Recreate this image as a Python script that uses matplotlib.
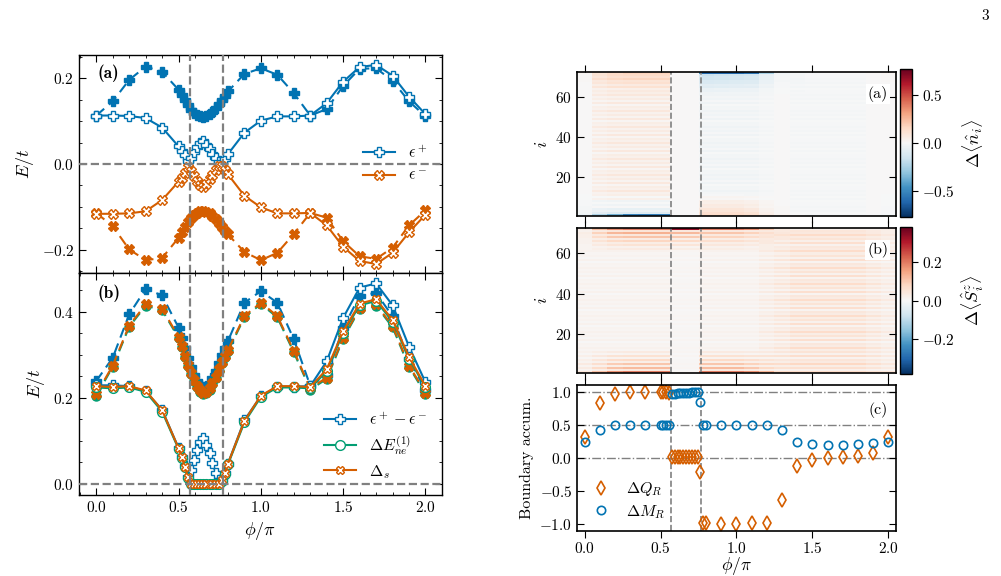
import numpy as np
import matplotlib
matplotlib.use('Agg')
import matplotlib.pyplot as plt
from matplotlib.ticker import MultipleLocator

plt.rcParams['font.family'] = 'serif'
plt.rcParams['font.serif'] = ['cmr10']
plt.rcParams['mathtext.fontset'] = 'cm'
plt.rcParams['axes.formatter.use_mathtext'] = True
plt.rcParams['font.size'] = 11

BLUE = '#0173b2'
ORANGE = '#d55e00'
GREEN = '#029e73'
GRAY = '0.5'

# --- data -------------------------------------------------------------
phi = [0.0, 0.1, 0.2, 0.3, 0.4,
       0.5, 0.519, 0.538, 0.556, 0.575, 0.594, 0.613, 0.631, 0.65,
       0.669, 0.688, 0.706, 0.725, 0.744, 0.763, 0.781, 0.8,
       0.9, 1.0, 1.1, 1.2, 1.3, 1.4, 1.5, 1.6, 1.7, 1.8, 1.9, 2.0]
phi_c = [0.567, 0.768]

# panel (a)
eps_p = [0.113, 0.113, 0.112, 0.107, 0.085,
         0.041, 0.031, 0.020, 0.008, 0.015, 0.027, 0.039, 0.048, 0.053,
         0.045, 0.035, 0.024, 0.013, 0.005, 0.004, 0.012, 0.023,
         0.073, 0.101, 0.111, 0.111, 0.113, 0.142, 0.192, 0.226, 0.231, 0.206, 0.157, 0.116]
eps_m = [-0.116, -0.116, -0.115, -0.110, -0.084,
         -0.041, -0.032, -0.021, -0.008, -0.016, -0.028, -0.040, -0.049, -0.053,
         -0.046, -0.036, -0.025, -0.013, -0.005, -0.004, -0.013, -0.024,
         -0.074, -0.101, -0.115, -0.115, -0.114, -0.143, -0.193, -0.226, -0.233, -0.207, -0.159, -0.118]
eps_p_pbc = [0.113, 0.146, 0.196, 0.227, 0.215,
             0.173, 0.160, 0.148, 0.137, 0.127, 0.119, 0.114, 0.111, 0.110,
             0.112, 0.116, 0.122, 0.130, 0.139, 0.149, 0.159, 0.169,
             0.210, 0.223, 0.208, 0.165, 0.113, 0.128, 0.182, 0.222, 0.223, 0.194, 0.146, 0.111]
eps_m_pbc = [-0.114, -0.145, -0.199, -0.224, -0.219,
             -0.172, -0.159, -0.147, -0.136, -0.126, -0.118, -0.113, -0.110, -0.109,
             -0.111, -0.115, -0.121, -0.129, -0.138, -0.147, -0.156, -0.164,
             -0.205, -0.224, -0.207, -0.163, -0.114, -0.125, -0.180, -0.215, -0.221, -0.195, -0.143, -0.108]

# panel (b)
gap = [0.229, 0.229, 0.227, 0.215, 0.172,
       0.083, 0.063, 0.041, 0.016, 0.031, 0.055, 0.079, 0.097, 0.106,
       0.091, 0.071, 0.049, 0.026, 0.010, 0.008, 0.025, 0.047,
       0.148, 0.204, 0.226, 0.226, 0.227, 0.285, 0.386, 0.456, 0.466, 0.415, 0.319, 0.236]
dE = [0.224, 0.222, 0.224, 0.214, 0.168,
      0.081, 0.060, 0.038, 0.014, 0.0, 0.0, 0.0, 0.0, 0.0,
      0.0, 0.0, 0.0, 0.0, 0.0, 0.006, 0.023, 0.045,
      0.143, 0.202, 0.224, 0.224, 0.222, 0.262, 0.351, 0.415, 0.425, 0.377, 0.291, 0.224]
ds = [0.227, 0.225, 0.227, 0.217, 0.171,
      0.083, 0.062, 0.040, 0.016, 0.0, 0.0, 0.0, 0.0, 0.0,
      0.0, 0.0, 0.0, 0.0, 0.0, 0.008, 0.025, 0.047,
      0.146, 0.205, 0.227, 0.227, 0.225, 0.266, 0.355, 0.419, 0.429, 0.381, 0.295, 0.227]
gap_pbc = [0.239, 0.293, 0.394, 0.453, 0.438,
           0.363, 0.340, 0.316, 0.293, 0.272, 0.254, 0.239, 0.229, 0.224,
           0.226, 0.234, 0.246, 0.262, 0.281, 0.300, 0.316, 0.332,
           0.421, 0.448, 0.421, 0.336, 0.228, 0.253, 0.362, 0.437, 0.444, 0.389, 0.289, 0.219]
dE_pbc = [0.205, 0.272, 0.365, 0.414, 0.404,
          0.339, 0.317, 0.295, 0.274, 0.255, 0.238, 0.224, 0.214, 0.209,
          0.211, 0.219, 0.231, 0.246, 0.263, 0.280, 0.294, 0.308,
          0.387, 0.418, 0.387, 0.306, 0.219, 0.244, 0.337, 0.406, 0.414, 0.364, 0.272, 0.209]
ds_pbc = [0.208, 0.275, 0.368, 0.417, 0.407,
          0.342, 0.320, 0.298, 0.277, 0.258, 0.241, 0.227, 0.217, 0.212,
          0.214, 0.222, 0.234, 0.249, 0.266, 0.283, 0.297, 0.311,
          0.390, 0.421, 0.390, 0.309, 0.222, 0.247, 0.340, 0.409, 0.417, 0.367, 0.275, 0.212]

# panel (c)
dQ = [0.32, 0.83, 0.97, 0.99, 0.99,
      0.99, 0.99, 0.99, 0.98, 0.01, 0.01, 0.01, 0.01, 0.01,
      0.01, 0.01, 0.01, 0.01, 0.01, -0.21, -0.98, -0.99,
      -1.0, -1.0, -0.99, -0.98, -0.64, -0.13, -0.03, 0.0, 0.01, 0.03, 0.08, 0.32]
dM = [0.24, 0.415, 0.49, 0.50, 0.50,
      0.50, 0.50, 0.50, 0.50, 0.965, 0.97, 0.975, 0.978, 0.98,
      0.982, 0.985, 0.987, 0.99, 0.99, 0.84, 0.50, 0.50,
      0.50, 0.50, 0.50, 0.50, 0.425, 0.245, 0.215, 0.20, 0.20, 0.205, 0.22, 0.24]

# heatmaps: per-column values at the outermost site, in the band next to it and in the bulk
n_sites = 72
n_top_edge = [0.02, 0.1, 0.14, 0.16, 0.16,
              0.16, 0.16, 0.16, 0.16, 0.0, 0.0, 0.0, 0.0, 0.0,
              0.0, 0.0, 0.0, 0.0, 0.0, -0.45, -0.6, -0.6,
              -0.6, -0.6, -0.55, -0.25, -0.04, -0.02, -0.01, 0.0, 0.0, 0.0, 0.01, 0.02]
n_top_band = [0.01, 0.07, 0.09, 0.1, 0.1,
              0.1, 0.1, 0.1, 0.1, 0.0, 0.0, 0.0, 0.0, 0.0,
              0.0, 0.0, 0.0, 0.0, 0.0, -0.12, -0.15, -0.15,
              -0.14, -0.13, -0.12, -0.06, -0.02, -0.01, 0.0, 0.0, 0.0, 0.0, 0.0, 0.01]
n_bot_edge = [-0.05, -0.3, -0.45, -0.6, -0.62,
              -0.62, -0.62, -0.62, -0.62, 0.0, 0.0, 0.0, 0.0, 0.0,
              0.0, 0.0, 0.0, 0.0, 0.0, 0.15, 0.18, 0.18,
              0.18, 0.18, 0.16, 0.08, 0.02, 0.01, 0.0, 0.0, 0.0, 0.0, -0.01, -0.02]
n_bot_band = [-0.02, -0.1, -0.12, -0.12, -0.12,
              -0.12, -0.12, -0.12, -0.12, 0.0, 0.0, 0.0, 0.0, 0.0,
              0.0, 0.0, 0.0, 0.0, 0.0, 0.12, 0.14, 0.14,
              0.14, 0.14, 0.12, 0.05, 0.01, 0.0, 0.0, 0.0, 0.0, 0.0, 0.0, -0.01]
n_bulk = [0.0, 0.04, 0.05, 0.05, 0.05,
          0.05, 0.05, 0.05, 0.05, 0.0, 0.0, 0.0, 0.0, 0.0,
          0.0, 0.0, 0.0, 0.0, 0.0, -0.02, -0.02, -0.02,
          -0.02, -0.02, -0.02, -0.01, 0.0, -0.01, -0.01, -0.01, -0.01, -0.01, 0.0, 0.0]
s_top_edge = [0.03, 0.12, 0.18, 0.2, 0.2,
              0.2, 0.2, 0.2, 0.2, 0.33, 0.33, 0.33, 0.33, 0.33,
              0.33, 0.33, 0.33, 0.33, 0.33, 0.2, 0.2, 0.2,
              0.2, 0.2, 0.18, 0.1, 0.03, 0.01, 0.01, 0.01, 0.01, 0.01, 0.01, 0.02]
s_top_band = [0.02, 0.08, 0.12, 0.13, 0.13,
              0.13, 0.13, 0.13, 0.13, 0.12, 0.12, 0.12, 0.12, 0.12,
              0.12, 0.12, 0.12, 0.12, 0.12, 0.1, 0.1, 0.1,
              0.1, 0.1, 0.08, 0.05, 0.02, 0.01, 0.01, 0.01, 0.01, 0.01, 0.01, 0.01]
s_bot_edge = [0.03, 0.1, 0.16, 0.18, 0.18,
              0.18, 0.18, 0.18, 0.18, 0.0, 0.0, 0.0, 0.0, 0.0,
              0.0, 0.0, 0.0, 0.0, 0.0, 0.18, 0.18, 0.18,
              0.18, 0.18, 0.16, 0.1, 0.03, 0.01, 0.01, 0.01, 0.01, 0.01, 0.01, 0.02]
s_bot_band = [0.02, 0.06, 0.1, 0.11, 0.11,
              0.11, 0.11, 0.11, 0.11, 0.0, 0.0, 0.0, 0.0, 0.0,
              0.0, 0.0, 0.0, 0.0, 0.0, 0.11, 0.11, 0.11,
              0.11, 0.11, 0.09, 0.05, 0.02, 0.01, 0.01, 0.01, 0.01, 0.01, 0.01, 0.01]
s_bulk = [0.01, 0.01, 0.01, 0.01, 0.01,
          0.01, 0.01, 0.01, 0.01, 0.005, 0.005, 0.005, 0.005, 0.005,
          0.005, 0.005, 0.005, 0.005, 0.005, 0.01, 0.01, 0.01,
          0.01, 0.01, 0.01, 0.02, 0.03, 0.04, 0.04, 0.04, 0.04, 0.04, 0.03, 0.02]
band_n = [1.0, 0.9, 0.8, 0.7, 0.6, 0.5, 0.4, 0.3, 0.2, 0.1]
band_s = [0.3, 1.0, 0.2, 0.8, 0.15, 0.6, 0.1, 0.4, 0.05, 0.2]
stripe = [0.6, -0.6, 0.3, -0.3, 0.8, -0.2, 0.1, -0.7]


def build_map(top_edge, top_band, bot_edge, bot_band, bulk, band):
    z = np.zeros((n_sites, len(phi)))
    for r in range(n_sites):
        z[r] = np.array(bulk) * (1 + stripe[r % len(stripe)])
    z[0] += np.array(bot_edge)
    z[-1] += np.array(top_edge)
    for k, w in enumerate(band):
        z[1 + k] += np.array(bot_band) * w
        z[n_sites - 2 - k] += np.array(top_band) * w
    return z


dn_map = build_map(n_top_edge, n_top_band, n_bot_edge, n_bot_band, n_bulk, band_n)
sz_map = build_map(s_top_edge, s_top_band, s_bot_edge, s_bot_band, s_bulk, band_s)
sites = np.arange(1, n_sites + 1)

# --- figure -----------------------------------------------------------
fig = plt.figure(figsize=(10.01, 5.76), dpi=100)
ax_a = fig.add_axes([0.0789, 0.526, 0.3626, 0.3785])
ax_b = fig.add_axes([0.0789, 0.1406, 0.3626, 0.3854], sharex=ax_a)


def style_left(ax):
    ax.tick_params(which='both', direction='in', top=True, right=True)
    ax.tick_params(which='major', length=5, width=0.8)
    ax.tick_params(which='minor', length=2.5, width=0.6)
    ax.xaxis.set_major_locator(MultipleLocator(0.5))
    ax.xaxis.set_minor_locator(MultipleLocator(0.1))
    ax.yaxis.set_major_locator(MultipleLocator(0.2))
    ax.yaxis.set_minor_locator(MultipleLocator(0.05))
    for s in ax.spines.values():
        s.set_linewidth(1.0)


ms = 7
# (a)
ax_a.plot(phi, eps_p_pbc, '--', color=BLUE, marker='P', ms=6.5, lw=1.5, dashes=(5, 3))
ax_a.plot(phi, eps_m_pbc, '--', color=ORANGE, marker='X', ms=6.5, lw=1.5, dashes=(5, 3))
ax_a.plot(phi, eps_p, '-', color=BLUE, marker='P', ms=ms, mfc='white', mew=1.0, lw=1.5,
          label=r'$\epsilon^+$')
ax_a.plot(phi, eps_m, '-', color=ORANGE, marker='X', ms=ms, mfc='white', mew=1.0, lw=1.5,
          label=r'$\epsilon^-$')
ax_a.axhline(0, color=GRAY, ls='--', lw=1.6, zorder=4)
for p in phi_c:
    ax_a.axvline(p, color=GRAY, ls='--', lw=1.6, zorder=4)
ax_a.set_xlim(-0.105, 2.1)
ax_a.set_ylim(-0.254, 0.254)
ax_a.set_ylabel(r'$E/t$', fontsize=13)
style_left(ax_a)
plt.setp(ax_a.get_xticklabels(), visible=False)
ax_a.text(0.05, 0.915, '(a)', transform=ax_a.transAxes, fontsize=12.5, va='center',
          fontfamily='cmb10')
ax_a.legend(loc='center right', bbox_to_anchor=(1.0, 0.5), frameon=False, fontsize=11.5,
            handlelength=2.0, handletextpad=0.8, labelspacing=0.55)

# (b)
ax_b.plot(phi, gap_pbc, '--', color=BLUE, marker='P', ms=6.5, lw=1.5, dashes=(5, 3))
ax_b.plot(phi, dE_pbc, '--', color=GREEN, marker='o', ms=6.5, lw=1.5, dashes=(5, 3))
ax_b.plot(phi, ds_pbc, '--', color=ORANGE, marker='X', ms=6.5, lw=1.5, dashes=(5, 3))
ax_b.plot(phi, gap, '-', color=BLUE, marker='P', ms=ms, mfc='white', mew=1.0, lw=1.5,
          label=r'$\epsilon^+-\epsilon^-$')
ax_b.plot(phi, dE, '-', color=GREEN, marker='o', ms=ms, mfc='white', mew=1.0, lw=1.5,
          label=r'$\Delta E_{ne}^{(1)}$')
ax_b.plot(phi, ds, '-', color=ORANGE, marker='X', ms=6, mfc='white', mew=1.0, lw=1.5,
          label=r'$\Delta_s$')
ax_b.axhline(0, color=GRAY, ls='--', lw=1.6, zorder=4)
for p in phi_c:
    ax_b.axvline(p, color=GRAY, ls='--', lw=1.6, zorder=4)
ax_b.set_ylim(-0.026, 0.49)
ax_b.set_ylabel(r'$E/t$', fontsize=13)
ax_b.set_xlabel(r'$\phi/\pi$', fontsize=13)
style_left(ax_b)
ax_b.text(0.05, 0.91, '(b)', transform=ax_b.transAxes, fontsize=12.5, va='center',
          fontfamily='cmb10')
ax_b.legend(loc='lower right', bbox_to_anchor=(1.0, 0.0), frameon=False, fontsize=11.5,
            handlelength=2.0, handletextpad=0.8, labelspacing=0.4)

# right column
ax_n = fig.add_axes([0.5764, 0.625, 0.3187, 0.25])
ax_s = fig.add_axes([0.5764, 0.3519, 0.3187, 0.2517], sharex=ax_n)
ax_c = fig.add_axes([0.5764, 0.0786, 0.3187, 0.253], sharex=ax_n)
cax_n = fig.add_axes([0.899, 0.6233, 0.0117, 0.257])
cax_s = fig.add_axes([0.899, 0.3507, 0.0117, 0.255])


def style_right(ax):
    ax.tick_params(axis='x', which='both', direction='out', top=True, bottom=True, length=5,
                   width=0.8, pad=2.5)
    ax.tick_params(axis='y', which='both', direction='in', left=True, right=True, length=5, width=0.8)
    ax.xaxis.set_major_locator(MultipleLocator(0.5))
    for s in ax.spines.values():
        s.set_linewidth(1.2)


m1 = ax_n.pcolormesh(phi, sites, dn_map, cmap='RdBu_r', vmin=-0.77, vmax=0.77, shading='nearest')
m2 = ax_s.pcolormesh(phi, sites, sz_map, cmap='RdBu_r', vmin=-0.385, vmax=0.385, shading='nearest')
for ax, lab in [(ax_n, '(a)'), (ax_s, '(b)')]:
    for p in phi_c:
        ax.axvline(p, color=GRAY, ls='--', lw=1.2)
    ax.set_ylim(0.5, 72.5)
    ax.set_yticks([20, 40, 60])
    ax.set_ylabel(r'$i$', fontsize=13)
    style_right(ax)
    plt.setp(ax.get_xticklabels(), visible=False)
    ax.text(0.975, 0.85, lab, transform=ax.transAxes, ha='right', va='center', fontsize=11.5,
            bbox=dict(facecolor='white', edgecolor='none', pad=1.5))

cb1 = fig.colorbar(m1, cax=cax_n)
cb1.set_ticks([-0.5, 0.0, 0.5])
cb1.set_label(r'$\Delta\langle\hat{n}_i\rangle$', fontsize=13)
cb2 = fig.colorbar(m2, cax=cax_s)
cb2.set_ticks([-0.2, 0.0, 0.2])
cb2.set_label(r'$\Delta\langle\hat{S}^z_i\rangle$', fontsize=13)
for cb in (cb1, cb2):
    cb.outline.set_linewidth(1.0)
    cb.ax.tick_params(length=4, width=0.8)

# (c)
for yv in [1.0, 0.5, 0.0]:
    ax_c.axhline(yv, color=GRAY, ls='-.', lw=1.0, zorder=0)
for p in phi_c:
    ax_c.axvline(p, color=GRAY, ls='--', lw=1.2, zorder=0)
ax_c.plot(phi, dQ, 'd', color=ORANGE, mfc='none', ms=7, mew=1.2, ls='none', label=r'$\Delta Q_R$')
ax_c.plot(phi, dM, 'o', color=BLUE, mfc='none', ms=6, mew=1.2, ls='none', label=r'$\Delta M_R$')
ax_c.set_xlim(-0.05, 2.05)
ax_c.set_ylim(-1.1, 1.1)
ax_c.set_yticks([-1.0, -0.5, 0.0, 0.5, 1.0])
ax_c.set_ylabel('Boundary accum.', fontsize=11.5)
ax_c.set_xlabel(r'$\phi/\pi$', fontsize=12.5, labelpad=-1)
style_right(ax_c)
ax_c.text(0.975, 0.83, '(c)', transform=ax_c.transAxes, ha='right', va='center', fontsize=11.5,
          bbox=dict(facecolor='white', edgecolor='none', pad=1.5))
ax_c.legend(loc='lower left', bbox_to_anchor=(0.0, -0.03), frameon=False, fontsize=11.5,
            handlelength=1.2, handletextpad=1.0, labelspacing=0.3)

fig.text(0.984, 0.972, '3', fontsize=11, ha='center', va='center')

fig.savefig('out.png', dpi=100)
